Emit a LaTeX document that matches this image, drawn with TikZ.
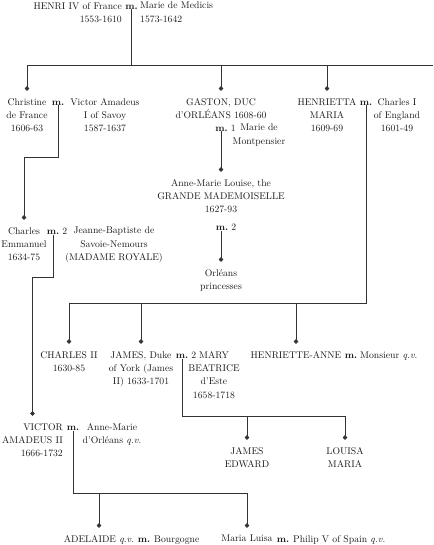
\documentclass[tikz,border=0pt]{standalone}
\usepackage{tikz}
\usetikzlibrary{arrows.meta}

\begin{document}
\begin{tikzpicture}[x=1pt, y=-1pt,
	every node/.style={font=\fontsize{9.7}{13.4}\selectfont, text=black!90, inner sep=0pt},
	person/.style={align=center, anchor=north},
	wed/.style={anchor=base, font=\fontsize{9.7}{13.4}\selectfont\bfseries},
	line/.style={draw=black!80, line width=0.7pt},
	kid/.style={line, -{Kite[length=5pt,width=4.5pt,inset=2.5pt]}, shorten >=7pt}]
	\useasboundingbox (0,0) rectangle (433,545);
	% levels of the bars
	\coordinate (bar1) at (0,65);
	\coordinate (bar1e) at (433,65);
	\coordinate (clevel) at (0,157);
	\coordinate (vlevel) at (0,277);
	\coordinate (bar2) at (0,303);
	\coordinate (bar3) at (0,416);
	\coordinate (bar4) at (0,493);

	% Henri IV and Marie de Medicis
	\node[align=right, anchor=north east] (henri) at (122,2) {HENRI IV of France\\1553-1610};
	\node[wed] (hm) at (131.5,9.3) {m.};
	\node[align=left, anchor=north west] (marie) at (140,2) {Marie de Medicis\\1573-1642};

	% their children
	\node[person] (christine) at (27,98) {Christine\\de France\\1606-63};
	\node[wed] (cm) at (58,105.3) {m.};
	\node[person] (victorI) at (105,98) {Victor Amadeus\\I of Savoy\\1587-1637};
	\node[person] (gaston) at (221,98) {GASTON, DUC\\d'ORLÉANS 1608-60};
	\node[wed] (gm) at (221.5,131.3) {m.\rlap{\mdseries\ 1}};
	\node[person] (montp) at (259,124) {Marie de\\Montpensier};
	\node[person] (henrietta) at (327,98) {HENRIETTA\\MARIA\\1609-69};
	\node[wed] (hem) at (366,105.3) {m.};
	\node[person] (charlesI) at (397,98) {Charles I\\of England\\1601-49};

	% Orleans
	\node[person] (annemarie) at (221,179) {Anne-Marie Louise, the\\GRANDE MADEMOISELLE\\1627-93};
	\node[wed] (am) at (222,230.3) {m.\rlap{\mdseries\ 2}};
	\node[person] (orleans) at (221,269) {Orléans\\princesses};

	% Savoy
	\node[person] (charlesem) at (24,227) {Charles\\Emmanuel\\1634-75};
	\node[wed] (cem) at (53,234.3) {m.\rlap{\mdseries\ 2}};
	\node[person] (jeanne) at (114,227) {Jeanne-Baptiste de\\Savoie-Nemours\\(MADAME ROYALE)};
	\node[align=right, anchor=north east] (victorII) at (63,423) {VICTOR\\AMADEUS II\\1666-1732};
	\node[wed] (vm) at (73,430.3) {m.};
	\node[person] (amorleans) at (112,423) {Anne-Marie\\d'Orléans \textit{q.v.}};

	% England
	\node[person] (charlesII) at (69,351) {CHARLES II\\1630-85};
	\node[person] (james) at (141,351) {JAMES, Duke\\of York (James\\II) 1633-1701};
	\node[wed] (jm) at (182,358.3) {m.\rlap{\mdseries\ 2}};
	\node[person] (mary) at (214,351) {MARY\\BEATRICE\\d'Este\\1658-1718};
	\node[person] (henriette) at (296,351) {HENRIETTE-ANNE};
	\node[wed] (hhm) at (351,358.3) {m.};
	\node[anchor=base west] (monsieur) at (360,358.3) {Monsieur \textit{q.v.}};
	\node[person] (jamesed) at (247,447) {JAMES\\EDWARD};
	\node[person] (louisa) at (345,447) {LOUISA\\MARIA};

	% grandchildren of Victor Amadeus II
	\node[person] (adelaide) at (99,535) {ADELAIDE \textit{q.v.}};
	\node[wed] (adm) at (144,542.3) {m.};
	\node[anchor=base west] (bourgogne) at (154,542.3) {Bourgogne};
	\node[person] (marialuisa) at (247,535) {Maria Luisa};
	\node[wed] (mlm) at (283,542.3) {m.};
	\node[anchor=base west] (philip) at (293,542.3) {Philip V of Spain \textit{q.v.}};

	% connectors
	\draw[line] (hm.south) -- (hm.south |- bar1);
	\draw[line] (christine.north |- bar1) -- (bar1e);
	\draw[kid] (christine.north |- bar1) -- (christine.north);
	\draw[kid] (gaston.north |- bar1) -- (gaston.north);
	\draw[kid] (henrietta.north |- bar1) -- (henrietta.north);

	\draw[kid] (cm.south) -- (cm.south |- clevel) -| (charlesem.north);
	\draw[kid] (cem.south) -- (cem.south |- vlevel) -| (victorII.north);
	\draw[kid] (gaston.south |- gm.south) -- (annemarie.north);
	\draw[kid] (annemarie.south |- am.south) -- (orleans.north);

	\draw[line] (hem.south) |- (charlesII.north |- bar2);
	\draw[kid] (charlesII.north |- bar2) -- (charlesII.north);
	\draw[kid] (james.north |- bar2) -- (james.north);
	\draw[kid] (henriette.north |- bar2) -- (henriette.north);

	\draw[line] (jm.south) |- (louisa.north |- bar3);
	\draw[kid] (jamesed.north |- bar3) -- (jamesed.north);
	\draw[kid] (louisa.north |- bar3) -- (louisa.north);

	\draw[line] (vm.south) |- (marialuisa.north |- bar4);
	\draw[kid] (adelaide.north |- bar4) -- (adelaide.north);
	\draw[kid] (marialuisa.north |- bar4) -- (marialuisa.north);
\end{tikzpicture}
\end{document}
